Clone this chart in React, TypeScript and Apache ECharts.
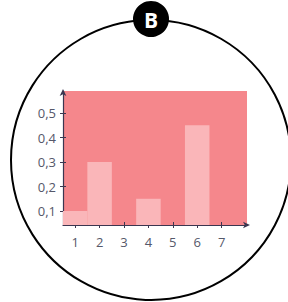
import React, { useEffect, useRef } from "react";
import * as echarts from "echarts";

const categories = [1, 2, 3, 4, 5, 6, 7];
const barPositions = [1, 2, 4, 6];
const barValues = [0.1, 0.3, 0.15, 0.45];
const yTicks = [0.1, 0.2, 0.3, 0.4, 0.5];
const badgeLabel = "B";

export default function App() {
  const ref = useRef<HTMLDivElement>(null);
  useEffect(() => {
    if (!ref.current) return;
    const chart = echarts.init(ref.current, null, { renderer: "svg" });
    const font = "'Open Sans', sans-serif";
    const textColor = "#55586a";
    const axisColor = "#3b3650";
    const yMin = 0.0429;
    const yMax = 0.59;
    const xMin = 0.5;
    const xMax = 8.04;
    const baseX = (extra: any) => ({
      type: "value",
      min: xMin,
      max: xMax,
      splitLine: { show: false },
      ...extra,
    });
    const baseY = (extra: any) => ({
      type: "value",
      min: yMin,
      max: yMax,
      splitLine: { show: false },
      ...extra,
    });
    chart.setOption({
      animation: false,
      backgroundColor: "#ffffff",
      grid: {
        left: 63,
        right: 41,
        top: 91,
        bottom: 77,
        show: true,
        backgroundColor: "#f5878c",
        borderWidth: 0,
      },
      xAxis: [
        baseX({
          axisLine: {
            show: true,
            lineStyle: { color: axisColor, width: 1.2 },
            symbol: ["none", "arrow"],
            symbolSize: [5, 7],
            symbolOffset: [0, 3],
          },
          axisTick: {
            show: true,
            customValues: categories,
            length: 3,
            lineStyle: { color: axisColor },
          },
          axisLabel: {
            show: true,
            customValues: categories,
            margin: 10,
            color: textColor,
            fontFamily: font,
            fontSize: 13,
            formatter: (v: number) => String(v),
          },
        }),
        baseX({
          position: "bottom",
          axisLine: { show: false },
          axisTick: {
            show: true,
            inside: true,
            customValues: categories,
            length: 3,
            lineStyle: { color: axisColor },
          },
          axisLabel: { show: false },
        }),
      ],
      yAxis: [
        baseY({
          axisLine: {
            show: true,
            lineStyle: { color: axisColor, width: 1.2 },
            symbol: ["none", "arrow"],
            symbolSize: [5, 7],
            symbolOffset: [0, 2],
          },
          axisTick: {
            show: true,
            customValues: yTicks,
            length: 3,
            lineStyle: { color: axisColor },
          },
          axisLabel: {
            show: true,
            customValues: yTicks,
            margin: 7,
            color: textColor,
            fontFamily: font,
            fontSize: 13,
            formatter: (v: number) => v.toFixed(1).replace(".", ","),
          },
        }),
        baseY({
          position: "left",
          axisLine: { show: false },
          axisTick: {
            show: true,
            inside: true,
            customValues: yTicks,
            length: 3,
            lineStyle: { color: axisColor },
          },
          axisLabel: { show: false },
        }),
      ],
      series: [
        {
          type: "bar",
          xAxisIndex: 0,
          yAxisIndex: 0,
          data: barPositions.map((x, i) => [x, barValues[i]]),
          barWidth: 24.5,
          itemStyle: { color: "#fab6b9" },
          clip: true,
          z: 1,
        },
      ],
      graphic: [
        {
          type: "circle",
          shape: { cx: 151, cy: 160, r: 140 },
          style: { fill: "none", stroke: "#000", lineWidth: 2 },
          z: 0,
          silent: true,
        },
        {
          type: "circle",
          shape: { cx: 151, cy: 19, r: 18 },
          style: { fill: "#000" },
          z: 10,
        },
        {
          type: "text",
          x: 151,
          y: 20,
          style: {
            text: badgeLabel,
            fill: "#fff",
            font: "bold 21px 'Open Sans', sans-serif",
            align: "center",
            verticalAlign: "middle",
          },
          z: 11,
        },
      ],
    });
    return () => chart.dispose();
  }, []);
  return (
    <div
      ref={ref}
      style={{ position: "fixed", left: 0, top: 0, width: 288, height: 302 }}
    />
  );
}
